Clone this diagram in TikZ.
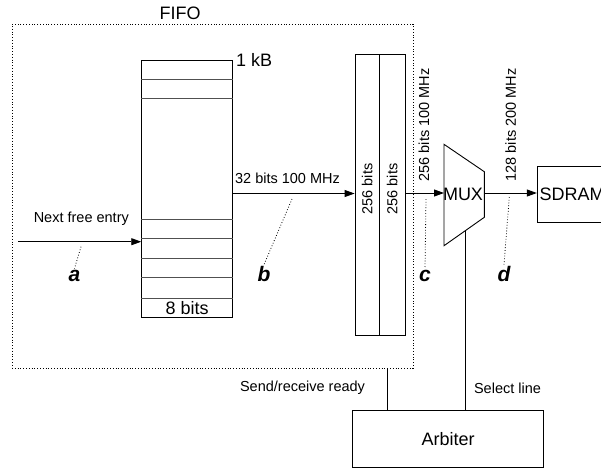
\documentclass[tikz,border=0pt]{standalone}
\usepackage{fontspec}
\setmainfont{Liberation Sans}
\usetikzlibrary{arrows.meta}
\definecolor{rowgrey}{HTML}{505050}

\begin{document}
\begin{tikzpicture}[x=1pt,y=-1pt,
    box/.style={draw,line width=0.9pt,inner sep=0pt},
    lbl/.style={font=\fontsize{14.5}{17}\selectfont,inner sep=0pt},
    big/.style={font=\fontsize{18}{21}\selectfont,inner sep=0pt},
    tag/.style={font=\fontsize{21}{24}\selectfont\bfseries\itshape,inner sep=1pt,anchor=base},
    bus/.style={-{Triangle[length=10pt,width=7pt]},line width=0.9pt},
    leader/.style={dotted,line width=0.8pt}]
        \useasboundingbox (0,0) rectangle (601,469);
        \clip (0,0) rectangle (601,469);
        % FIFO frame
        \node[draw,dotted,line width=0.8pt,minimum width=401pt,minimum height=344pt] (fifo) at (212.5,196) {};
        \node[big] (fifolbl) at (180,13.5) {FIFO};
        % memory column
        \node[box,minimum width=91pt,minimum height=257pt] (mem) at (187.2,188.8) {};
        \foreach \y in {79.7,98.7,219,238,258.7,277.3,298.7}
          \draw[rowgrey,line width=0.9pt] (mem.west |- 0,\y) -- (mem.east |- 0,\y);
        \node[big] (bits8) at (187.2,308) {8 bits};
        \node[big,anchor=west] (kb) at (236,60) {1 kB};
        % 256 bit buffers
        \node[box,minimum width=24.3pt,minimum height=280.7pt] (bufa) at (367.2,194.7) {};
        \node[box,minimum width=25.7pt,minimum height=280.7pt] (bufb) at (392.2,194.7) {};
        \node[lbl,rotate=90] (bufalbl) at (367.2,189) {256 bits};
        \node[lbl,rotate=90] (bufblbl) at (392.2,189) {256 bits};
        % mux
        \draw[line width=0.9pt] (444,144.3) -- (484.3,171.7) -- (484.3,217.3) -- (444,245.7) -- cycle;
        \node[big] (mux) at (463,194) {MUX};
        \coordinate (muxin) at (444,193);
        \coordinate (muxout) at (484.3,193);
        \coordinate (sel) at (465.7,231);
        % sdram and arbiter
        \node[box,minimum width=71pt,minimum height=56pt] (sdram) at (572.8,194.7) {};
        \node[big] (sdramlbl) at (572,194) {SDRAM};
        \node[box,minimum width=191.4pt,minimum height=57pt] (arbiter) at (448,439.2) {};
        \node[big] (arblbl) at (448,439.5) {Arbiter};
        % buses
        \coordinate (src) at (18,241.7);
        \draw[bus] (src) -- (mem.west |- src);
        \draw[bus] (mem.east |- 0,193.5) -- (bufa.west |- 0,193.5);
        \draw[bus] (bufb.east |- muxin) -- (muxin);
        \draw[bus] (muxout) -- (sdram.west |- muxout);
        \node[lbl] (nfe) at (81.3,218.5) {Next free entry};
        \node[lbl] (w32) at (287.5,178.5) {32 bits 100 MHz};
        \node[lbl,rotate=90] (w256) at (424,125) {256 bits 100 MHz};
        \node[lbl,rotate=90] (w128) at (510.7,125) {128 bits 200 MHz};
        % control lines
        \coordinate (rdy) at (387.7,368);
        \draw[line width=0.9pt] (rdy) -- (rdy |- arbiter.north);
        \draw[line width=0.9pt] (sel) -- (sel |- arbiter.north);
        \node[lbl] (rdylbl) at (302.5,388) {Send/receive ready};
        \node[lbl] (sellbl) at (507.5,388) {Select line};
        % measuring points
        \node[tag] (taga) at (74.5,281) {a};
        \node[tag] (tagb) at (264,281) {b};
        \node[tag] (tagc) at (425,281) {c};
        \node[tag] (tagd) at (504,281) {d};
        \coordinate (pa) at (81,246.7);
        \coordinate (pb) at (292,199);
        \coordinate (pc) at (426,199);
        \coordinate (pd) at (509.3,197);
        \draw[leader] (pa) -- (taga.north);
        \draw[leader] (pb) -- (tagb.north);
        \draw[leader] (pc) -- (tagc.north);
        \draw[leader] (pd) -- (tagd.north);
\end{tikzpicture}
\end{document}
